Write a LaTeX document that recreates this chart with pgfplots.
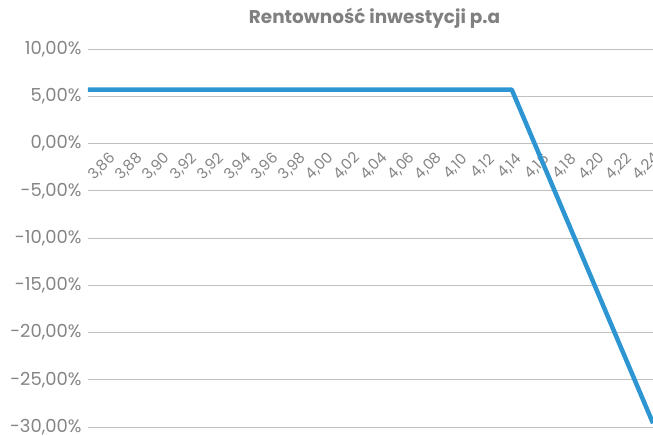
\documentclass[border=0pt]{standalone}
\usepackage{pgfplots}
\pgfplotsset{compat=1.18}
\usepackage{fontspec}
\setmainfont{Poppins}
\definecolor{linec}{HTML}{2E95D3}
\definecolor{gridc}{HTML}{BFBFBF}
\definecolor{labc}{HTML}{858585}
\definecolor{titc}{HTML}{808080}
\begin{document}
\begin{tikzpicture}
\begin{axis}[
  scale only axis,
  width=565bp, height=378bp,
  xmin=0, xmax=20,
  ymin=-30, ymax=10,
  axis x line*=middle,
  axis y line*=left,
  hide obscured x ticks=false,
  hide obscured y ticks=false,
  x axis line style={draw=none},
  y axis line style={draw=none},
  major tick length=0pt,
  ymajorgrids,
  grid style={gridc, line width=0.9bp},
  ytick={-30,-25,-20,-15,-10,-5,0,5,10},
  yticklabels={{-30,00\%},{-25,00\%},{-20,00\%},{-15,00\%},{-10,00\%},{-5,00\%},{0,00\%},{5,00\%},{10,00\%}},
  xtick={0.50,1.46,2.42,3.38,4.35,5.31,6.27,7.24,8.20,9.16,10.12,11.09,12.05,13.01,13.98,14.94,15.90,16.86,17.83,18.79,19.75},
  xticklabels={{3,86},{3,88},{3,90},{3,92},{3,92},{3,94},{3,96},{3,98},{4,00},{4,02},{4,04},{4,06},{4,08},{4,10},{4,12},{4,14},{4,16},{4,18},{4,20},{4,22},{4,24}},
  yticklabel style={font=\fontsize{18}{20}\selectfont, text=labc, anchor=east, xshift=-3bp},
  xticklabel style={font=\fontsize{15}{17}\selectfont, text=labc, anchor=center, yshift=-23bp, rotate=45},
  title={Rentowność inwestycji p.a},
  title style={font=\bfseries\fontsize{18.5}{20}\selectfont, text=titc, anchor=center, at={(0.5,1)}, yshift=25bp, xshift=4bp},
]
\addplot[linec, line width=4.5bp, line join=round] coordinates {
(0,5.7) (1,5.7) (2,5.7) (3,5.7) (4,5.7) (5,5.7) (6,5.7) (7,5.7) (8,5.7) (9,5.7)
(10,5.7) (11,5.7) (12,5.7) (13,5.7) (14,5.7) (15,5.7)
(16,-1.36) (17,-8.42) (18,-15.48) (19,-22.54) (20,-29.6)
};
\end{axis}
\pgfresetboundingbox
\path[use as bounding box] (current axis.south west) ++(-88bp,-9bp) rectangle ([shift={(0bp,49bp)}]current axis.north east);
\end{tikzpicture}
\end{document}
